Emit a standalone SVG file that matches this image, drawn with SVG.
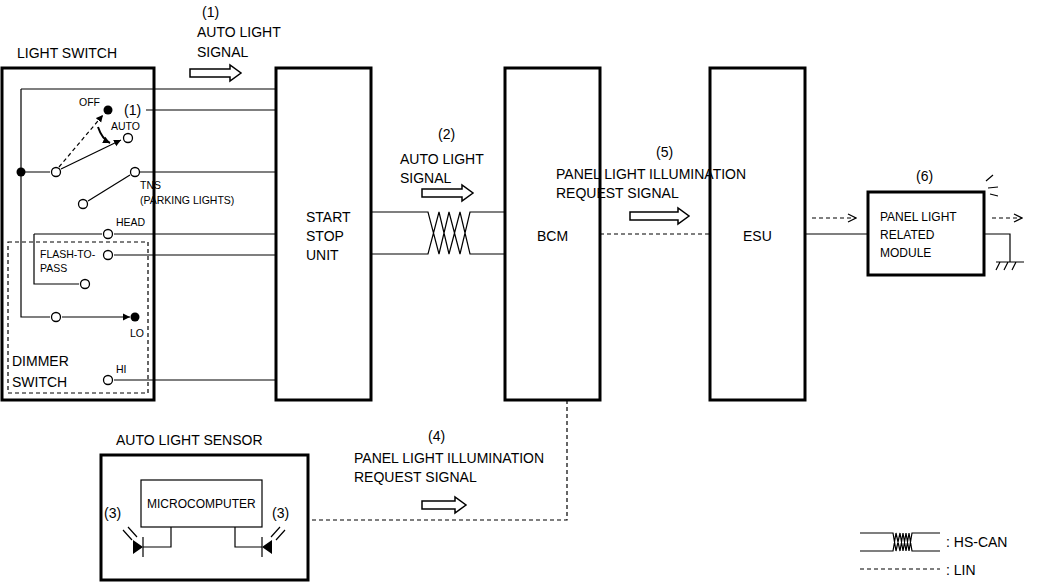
<svg xmlns="http://www.w3.org/2000/svg" width="1037" height="584" viewBox="0 0 1037 584">
<style>
text{font-family:"Liberation Sans",Arial,sans-serif;fill:#000}
.t14{font-size:14px}.t10{font-size:10.5px}.t12{font-size:12px}
.box{fill:#fff;stroke:#000;stroke-width:3}
.w{fill:none;stroke:#000;stroke-width:1.2}
.d{fill:none;stroke:#000;stroke-width:1.2;stroke-dasharray:4 3}
.c{fill:#fff;stroke:#000;stroke-width:1.3}
.ha{fill:#fff;stroke:#000;stroke-width:1.5}
</style>
<defs>
<marker id="ah" markerWidth="8" markerHeight="8" refX="7" refY="4" orient="auto" markerUnits="userSpaceOnUse"><path d="M0,0.5 L7,4 L0,7.5z" fill="#000"/></marker>
<marker id="oa" markerWidth="10" markerHeight="10" refX="9" refY="5" orient="auto" markerUnits="userSpaceOnUse"><path d="M1,1 L9,5 L1,9" fill="none" stroke="#000" stroke-width="1.2"/></marker>
</defs>
<rect width="1037" height="584" fill="#fff"/>
<g id="light-switch">
<rect class="box" x="2" y="68" width="152" height="332"/>
<rect x="8" y="242" width="140" height="151" class="d"/>
<text class="t14" x="17" y="58">LIGHT SWITCH</text>
<text class="t10" x="79" y="106">OFF</text>
<text class="t14" x="124" y="115">(1)</text>
<text class="t10" x="111" y="130">AUTO</text>
<text class="t10" x="140" y="189">TNS</text>
<text class="t10" x="140" y="204">(PARKING LIGHTS)</text>
<text class="t10" x="116" y="226">HEAD</text>
<text class="t10" x="40" y="258">FLASH-TO-</text>
<text class="t10" x="40" y="272">PASS</text>
<text class="t10" x="130" y="337">LO</text>
<text class="t10" x="116" y="373">HI</text>
<text class="t14" x="12" y="366">DIMMER</text>
<text class="t14" x="12" y="387">SWITCH</text>
</g>
<g id="start-stop-unit">
<rect class="box" x="276" y="68" width="95" height="332"/>
<text class="t14" x="306" y="222">START</text>
<text class="t14" x="306" y="241">STOP</text>
<text class="t14" x="306" y="260">UNIT</text>
</g>
<g id="bcm">
<rect class="box" x="505" y="68" width="95" height="332"/>
<text class="t14" x="537" y="241">BCM</text>
</g>
<g id="esu">
<rect class="box" x="710" y="68" width="95" height="332"/>
<text class="t14" x="743" y="241">ESU</text>
</g>
<g id="panel-module">
<rect class="box" x="868" y="192" width="116" height="83"/>
<text class="t12" x="880" y="221">PANEL LIGHT</text>
<text class="t12" x="880" y="239">RELATED</text>
<text class="t12" x="880" y="257">MODULE</text>
<text class="t14" x="916" y="181">(6)</text>
</g>
<g id="sensor">
<rect class="box" x="101" y="455" width="207" height="125"/>
<rect x="141" y="480" width="121" height="47" fill="#fff" stroke="#000" stroke-width="1.2"/>
<text class="t12" x="147" y="508">MICROCOMPUTER</text>
<path class="w" d="M171,527 V547 H143 M143,537 V557 M235,527 V547 H262 M262,537 V557 M123,530 L132,540 M128,527 L137,537 M285,530 L276,540 M280,527 L271,537"/>
<path d="M133,540 L143,547 L133,554 Z M272,540 L262,547 L272,554 Z"/>
<text class="t14" x="116" y="445">AUTO LIGHT SENSOR</text>
<text class="t14" x="104" y="518">(3)</text>
<text class="t14" x="272" y="518">(3)</text>
</g>
<g id="connectors">
<path class="w" d="M21,89 H276 M146,110 H276 M21,172 H50 M140,172 H276 M21,89 V317 H50 M34,234 H102 M114,234 H276 M34,234 V284 H79 M114,255 H276 M114,380 H276"/>
<path class="w" d="M61,169 L121,140" marker-end="url(#ah)"/>
<path class="d" d="M59,167 L103,115" marker-end="url(#ah)"/>
<path class="w" d="M88,201 L130,175"/>
<path class="w" d="M62,317 H130" marker-end="url(#ah)"/>
<path d="M98,127 Q102,139 110,143" fill="none" stroke="#000" stroke-width="2" marker-end="url(#ah)"/>
<path class="w" d="M371,212 H428 L439,254 L449,212 L460,254 L470,212 H505 M371,254 H428 L439,212 L449,254 L460,212 L470,254 H505"/>
<path class="d" d="M600,234 H710"/>
<path class="w" d="M805,234 H868 M984,234 H1010 V262"/>
<path class="d" d="M812,218 H856" marker-end="url(#oa)"/>
<path class="d" d="M992,218 H1022" marker-end="url(#oa)"/>
<path class="w" d="M996,262 H1024 M1000,262 L996,270 M1008,262 L1004,270 M1016,262 L1012,270 M986,181 L993,175 M988,188 L998,187 M990,194 L998,196"/>
<path class="d" d="M567,400 V520 H308"/>
<path class="ha" d="M190,69 H230 V65 L241,73 L230,81 V77 H190 Z"/>
<path class="ha" d="M422,189 H462 V185 L473,193 L462,201 V197 H422 Z"/>
<path class="ha" d="M630,212 H678 V208 L689,216 L678,224 V220 H630 Z"/>
<path class="ha" d="M422,501 H455 V497 L466,505 L455,513 V509 H422 Z"/>
<circle cx="21" cy="172" r="4.5"/>
<circle cx="108" cy="110" r="4.5"/>
<circle class="c" cx="56" cy="172" r="4.5"/>
<circle class="c" cx="128" cy="138" r="4.5"/>
<circle class="c" cx="135" cy="172" r="4.5"/>
<circle class="c" cx="83" cy="204" r="4.5"/>
<circle class="c" cx="108" cy="234" r="4.5"/>
<circle class="c" cx="108" cy="255" r="4.5"/>
<circle class="c" cx="85" cy="284" r="4.5"/>
<circle class="c" cx="56" cy="317" r="4.5"/>
<circle cx="135" cy="317" r="4.5"/>
<circle class="c" cx="108" cy="380" r="4.5"/>
</g>
<g id="labels">
<text class="t14" x="202" y="17">(1)</text>
<text class="t14" x="197" y="37">AUTO LIGHT</text>
<text class="t14" x="197" y="57">SIGNAL</text>
<text class="t14" x="438" y="139">(2)</text>
<text class="t14" x="400" y="164">AUTO LIGHT</text>
<text class="t14" x="400" y="183">SIGNAL</text>
<text class="t14" x="656" y="157">(5)</text>
<text class="t14" x="556" y="179">PANEL LIGHT ILLUMINATION</text>
<text class="t14" x="556" y="198">REQUEST SIGNAL</text>
<text class="t14" x="428" y="441">(4)</text>
<text class="t14" x="354" y="463">PANEL LIGHT ILLUMINATION</text>
<text class="t14" x="354" y="482">REQUEST SIGNAL</text>
</g>
<g id="legend">
<path class="w" d="M860,533 H893 L896,551 L900,533 L903,551 L906,533 L909,551 L912,533 H940 M860,551 H893 L896,533 L900,551 L903,533 L906,551 L909,533 L912,551 H940"/>
<path class="d" d="M860,569 H940"/>
<text class="t14" x="946" y="547">: HS-CAN</text>
<text class="t14" x="946" y="575">: LIN</text>
</g>
</svg>
